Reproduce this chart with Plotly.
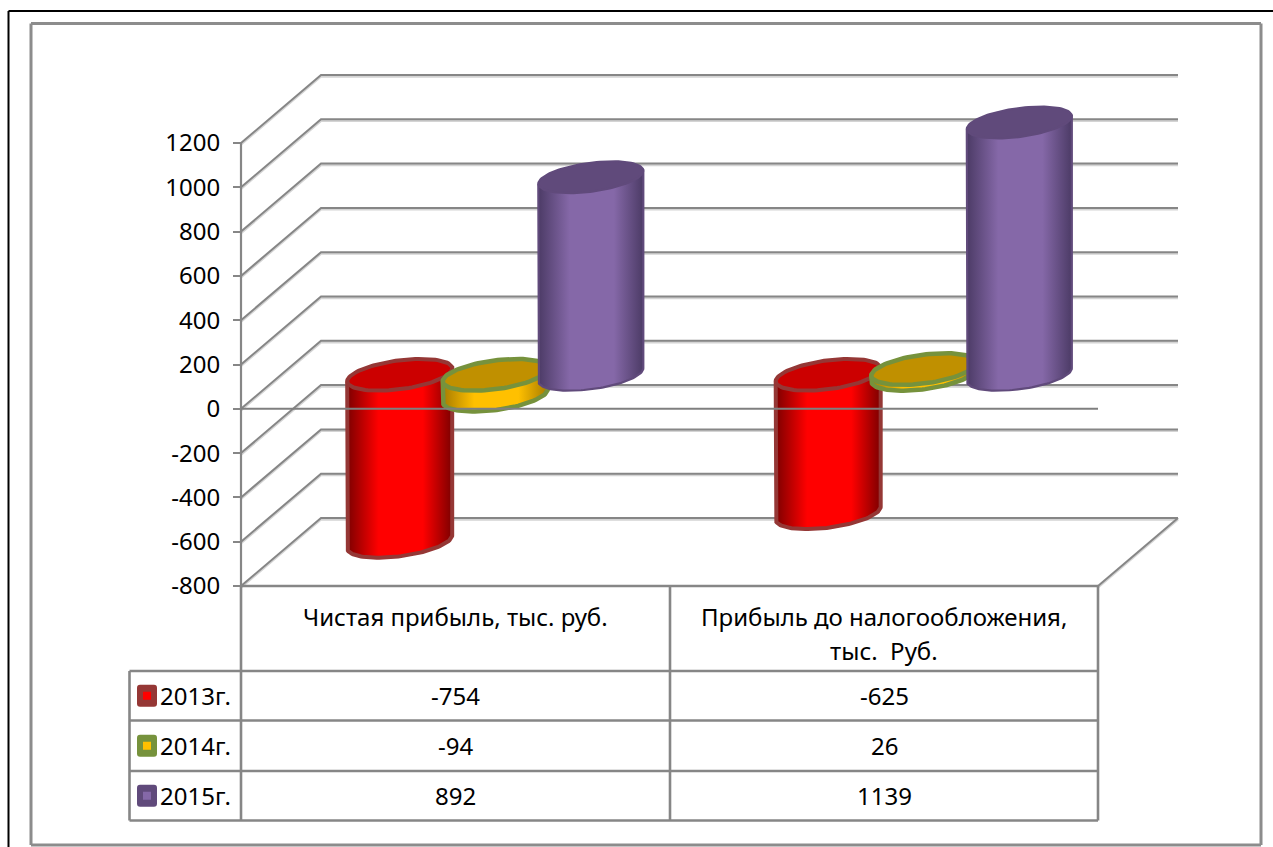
import numpy as np
import plotly.graph_objects as go

# Chart data
categories = ["Чистая прибыль, тыс. руб.", "Прибыль до налогообложения,"]
category_second_line = ["", "тыс.  Руб."]
series_names = ["2013г.", "2014г.", "2015г."]
values_2013 = [-754, -625]
values_2014 = [-94, 26]
values_2015 = [892, 1139]
y_ticks = [-800, -600, -400, -200, 0, 200, 400, 600, 800, 1000, 1200]

# Page and front-plane geometry, in pixels
W, H = 1273, 847
L, R, T, B = 241, 1098, 143, 586
X_UNIT = (R - L) / 2          # pixels per category
Y_UNIT = (B - T) / 2000       # pixels per value unit
DEPTH_PX = (80, 68)           # shift from the front plane to the back wall
DX, DY = DEPTH_PX[0] / X_UNIT, DEPTH_PX[1] / Y_UNIT
FONT = "Noto Sans"
TEXT_SIZE = 24
GRID = "#868686"


def px_x(x):
    return x / W


def px_y(y):
    return 1 - y / H


def ellipse(cx, cy, t):
    """Tilted cross-section of a cylinder, centred on data point (cx, cy)."""
    a, tilt, c = 52.5, 6.5, 14.5
    return cx + a * np.cos(t) / X_UNIT, cy - (-tilt * np.cos(t) + c * np.sin(t)) / Y_UNIT


fig = go.Figure()


def lines(xs, ys, color, width):
    fig.add_trace(go.Scatter(x=xs, y=ys, mode="lines", hoverinfo="skip", showlegend=False,
                             line=dict(color=color, width=width)))


# Walls: every gridline runs from the axis to the back wall and then across it
grid_x, grid_y = [], []
for v in y_ticks:
    grid_x += [0, DX, 2 + DX, None]
    grid_y += [v, v + DY, v + DY, None]
grid_x += [2, 2 + DX, None]
grid_y += [y_ticks[0], y_ticks[0] + DY, None]
lines(grid_x, [None if g is None else g - 1.4 / Y_UNIT for g in grid_y], "#d4d4d4", 2.5)
lines(grid_x, grid_y, GRID, 2)
lines([0, 0], [y_ticks[0], y_ticks[-1]], GRID, 2.2)

# Cylinders, left to right within each category group
styles = [
    dict(edge="#7d0000", mid="#ff0000", top="#cc0000", line="#953735", width=4),
    dict(edge="#a87c00", mid="#ffc000", top="#c09000", line="#76923c", width=4.5),
    dict(edge="#4c3b66", mid="#8568a8", top="#604a7b", line="#604a7b", width=2.2),
]
slots = [0.277, 0.5, 0.723]
series = [values_2013, values_2014, values_2015]


def cylinder(cx, value, st):
    base = DY / 2
    hi, lo = base + max(value, 0), base + min(value, 0)
    t_arc = np.linspace(np.pi, 0, 60)
    bx, by = ellipse(cx, lo, t_arc)
    tx, ty = ellipse(cx, hi, np.array([0.0, np.pi]))
    fig.add_trace(go.Scatter(
        x=np.r_[tx[1], bx, tx[0], tx[1]], y=np.r_[ty[1], by, ty[0], ty[1]],
        mode="lines", fill="toself", hoverinfo="skip", showlegend=False,
        line=dict(color=st["line"], width=st["width"]),
        fillgradient=dict(type="horizontal", colorscale=[
            [0, st["edge"]], [0.3, st["mid"]], [0.72, st["mid"]], [1, st["edge"]]]),
    ))
    ex, ey = ellipse(cx, hi, np.linspace(0, 2 * np.pi, 100))
    fig.add_trace(go.Scatter(
        x=ex, y=ey, mode="lines", fill="toself", fillcolor=st["top"],
        hoverinfo="skip", showlegend=False, line=dict(color=st["line"], width=st["width"]),
    ))


for c in range(len(categories)):
    for s, vals in enumerate(series):
        cylinder(c + slots[s] + DX / 2, vals[c], styles[s])

# Zero line crosses in front of the cylinders
lines([0, 2], [0, 0], "#7f7f7f", 2)

# Frames and data table
shapes = []


def rule(x0, y0, x1, y1, color="#868686", width=2.6):
    shapes.append(dict(type="line", xref="paper", yref="paper",
                       x0=px_x(x0), y0=px_y(y0), x1=px_x(x1), y1=px_y(y1),
                       line=dict(color=color, width=width)))


rule(8.5, 11, 8.5, H, "#000000", 2)
rule(8.5, 11, W, 11, "#000000", 2)
for a in [(31, 23.5, 1261, 23.5), (31, 23.5, 31, 845), (1261, 23.5, 1261, 845), (31, 845, 1261, 845)]:
    rule(*a, "#8c8c8c", 3)

columns = [129.5, 241, 670, 1098]
rows = [586, 671, 720.5, 771, 820.5]
for x in columns[1:]:
    rule(x, rows[0], x, rows[-1])
rule(columns[0], rows[1], columns[0], rows[-1])
rule(L, rows[0], R, rows[0])
for y in rows[1:]:
    rule(columns[0], y, R, y)


def rounded_rect(x0, y0, x1, y1, r):
    x0, x1 = px_x(x0), px_x(x1)
    y0, y1 = px_y(y0), px_y(y1)
    rx, ry = r / W, r / H
    return (f"M{x0 + rx},{y0} L{x1 - rx},{y0} Q{x1},{y0} {x1},{y0 - ry} "
            f"L{x1},{y1 + ry} Q{x1},{y1} {x1 - rx},{y1} L{x0 + rx},{y1} "
            f"Q{x0},{y1} {x0},{y1 + ry} L{x0},{y0 - ry} Q{x0},{y0} {x0 + rx},{y0} Z")


annotations = []


def label(text, x, y, anchor="center"):
    annotations.append(dict(text=text, xref="paper", yref="paper", x=px_x(x), y=px_y(y),
                            xanchor=anchor, yanchor="middle", showarrow=False,
                            font=dict(family=FONT, size=TEXT_SIZE, color="#000000")))


centres = [(columns[1] + columns[2]) / 2, (columns[2] + columns[3]) / 2]
for c, name in enumerate(categories):
    label(name, centres[c], 616)
    if category_second_line[c]:
        label(category_second_line[c], centres[c], 650)

for s, name in enumerate(series_names):
    mid = (rows[s + 1] + rows[s + 2]) / 2
    st = styles[s]
    shapes.append(dict(type="path", xref="paper", yref="paper", line_width=0,
                       fillcolor=st["line"], path=rounded_rect(137, mid - 11, 157, mid + 11, 3)))
    shapes.append(dict(type="rect", xref="paper", yref="paper", line_width=0, fillcolor=st["mid"],
                       x0=px_x(143), x1=px_x(151), y0=px_y(mid + 4), y1=px_y(mid - 4)))
    label(name, 158, mid, "left")
    for c in range(len(categories)):
        label(str(series[s][c]), centres[c], mid)

fig.update_layout(
    width=W, height=H, autosize=False,
    margin=dict(l=0, r=0, t=0, b=0),
    paper_bgcolor="#ffffff", plot_bgcolor="rgba(0,0,0,0)",
    shapes=shapes, annotations=annotations, showlegend=False,
    font=dict(family=FONT, color="#000000"),
    xaxis=dict(range=[-L / X_UNIT, (W - L) / X_UNIT], showgrid=False, zeroline=False,
               showticklabels=False, ticks=""),
    yaxis=dict(range=[y_ticks[0] - (H - B) / Y_UNIT, y_ticks[-1] + T / Y_UNIT],
               anchor="free", position=L / W, tickvals=y_ticks, ticktext=[str(v) for v in y_ticks],
               showgrid=False, zeroline=False, showline=False,
               ticks="outside", ticklen=8, tickwidth=2, tickcolor=GRID, ticklabelstandoff=8,
               tickfont=dict(family=FONT, size=TEXT_SIZE, color="#000000")),
)

fig.write_html("out.html", config=dict(displayModeBar=False))
